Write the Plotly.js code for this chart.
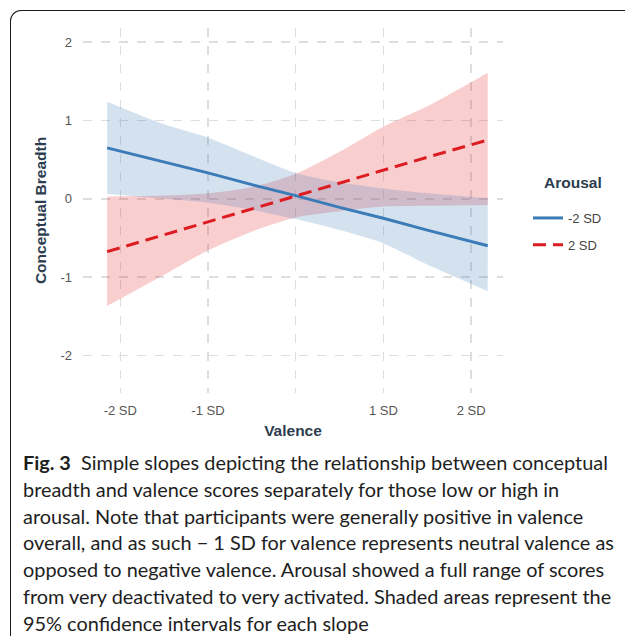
<!DOCTYPE html>
<html>
<head>
<meta charset="utf-8">
<script src="https://cdn.plot.ly/plotly-3.0.1.min.js"></script>
<style>
  html, body { margin: 0; padding: 0; background: #fff; }
  #frame { position: absolute; left: 10px; top: 10px; width: 640px; height: 640px;
           border-left: 1.6px solid #1a1a1a; border-top: 1.6px solid #1a1a1a;
           border-top-left-radius: 11px; box-sizing: border-box; }
  #chart { position: absolute; left: 0; top: 0; width: 625px; height: 636px; }
</style>
</head>
<body>
<div id="frame"></div>
<div id="chart"></div>
<script>
// ---- data ----
const valence = [-2.15, -1.5, -1, -0.5, 0, 0.5, 1, 1.5, 2.19];
const lowArousalFit   = [0.65, 0.47, 0.33, 0.18, 0.04, -0.11, -0.25, -0.40, -0.60];
const lowArousalUpper = [1.24, 0.95, 0.78, 0.55, 0.33, 0.21, 0.13, 0.07, 0.01];
const lowArousalLower = [0.06, 0.00, -0.05, -0.14, -0.26, -0.40, -0.57, -0.84, -1.18];
const highArousalFit   = [-0.675, -0.46, -0.30, -0.13, 0.03, 0.20, 0.37, 0.53, 0.75];
const highArousalUpper = [0.03, 0.04, 0.07, 0.15, 0.32, 0.60, 0.92, 1.18, 1.61];
const highArousalLower = [-1.37, -0.97, -0.66, -0.42, -0.24, -0.16, -0.10, -0.09, -0.08];
const legendTitle = 'Arousal';
const seriesNames = ['-2 SD', '2 SD'];
const xTickVals = [-2, -1, 0, 1, 2];
const xTickText = ['-2 SD', '-1 SD', '', '1 SD', '2 SD'];
const yTickVals = [-2, -1, 0, 1, 2];
const yTickText = ['-2', '-1', '0', '1', '2'];
const captionLines = [
  '<b>Fig. 3</b>\u00a0\u00a0Simple slopes depicting the relationship between conceptual',
  'breadth and valence scores separately for those low or high in',
  'arousal. Note that participants were generally positive in valence',
  'overall, and as such \u2212 1 SD for valence represents neutral valence as',
  'opposed to negative valence. Arousal showed a full range of scores',
  'from very deactivated to very activated. Shaded areas represent the',
  '95% confidence intervals for each slope'
];

// ---- layout geometry (pixels) ----
const FIG_W = 625, FIG_H = 636;
const M = {l: 83, r: 122, t: 28, b: 243};
const PW = FIG_W - M.l - M.r, PH = FIG_H - M.t - M.b;
const px2x = px => (px - M.l) / PW;
const py2y = py => (M.t + PH - py) / PH;

const blue = '#3b7bb7', red = '#dd1c22';
const blueFill = 'rgba(59,123,183,0.22)', redFill = 'rgba(228,30,36,0.22)';
const sans = 'Liberation Sans, Arial, sans-serif';

const traces = [
  {x: valence, y: highArousalLower, mode: 'lines', line: {width: 0, shape: 'spline', smoothing: 0.8}, showlegend: false, hoverinfo: 'skip'},
  {x: valence, y: highArousalUpper, mode: 'lines', line: {width: 0, shape: 'spline', smoothing: 0.8}, fill: 'tonexty', fillcolor: redFill, showlegend: false, hoverinfo: 'skip'},
  {x: valence, y: lowArousalLower, mode: 'lines', line: {width: 0, shape: 'spline', smoothing: 0.8}, showlegend: false, hoverinfo: 'skip'},
  {x: valence, y: lowArousalUpper, mode: 'lines', line: {width: 0, shape: 'spline', smoothing: 0.8}, fill: 'tonexty', fillcolor: blueFill, showlegend: false, hoverinfo: 'skip'},
  {x: valence, y: lowArousalFit, mode: 'lines', name: seriesNames[0], legendgroup: 'a', line: {color: blue, width: 3}},
  {x: valence, y: highArousalFit, mode: 'lines', name: seriesNames[1], legendgroup: 'b', line: {color: red, width: 3, dash: '13px,7px'}}
];

const annotations = captionLines.map((t, i) => ({
  text: t, xref: 'paper', yref: 'paper', x: px2x(21), y: py2y(462 + i * 26.8),
  xanchor: 'left', yanchor: 'middle', showarrow: false, align: 'left',
  font: {family: 'Lato, sans-serif', size: 19.9, color: '#1e1e1e'}
}));
annotations.push({
  text: '<b>' + legendTitle + '</b>', xref: 'paper', yref: 'paper', x: px2x(573), y: py2y(182),
  xanchor: 'center', yanchor: 'middle', showarrow: false,
  font: {family: sans, size: 15.5, color: '#2d3d4f'}
});

const layout = {
  width: FIG_W, height: FIG_H,
  margin: M,
  paper_bgcolor: 'rgba(0,0,0,0)', plot_bgcolor: 'rgba(0,0,0,0)',
  font: {family: sans, color: '#555'},
  xaxis: {
    range: [-2.425, 2.364], tickvals: xTickVals, ticktext: xTickText,
    showgrid: true, gridcolor: '#dedede', gridwidth: 1.5, griddash: 'dash',
    zeroline: false, showline: false, ticks: '', ticklabelstandoff: 8,
    tickfont: {family: sans, size: 13, color: '#555'},
    title: {text: '<b>Valence</b>', font: {family: sans, size: 15.5, color: '#2d3d4f'}, standoff: 8}
  },
  yaxis: {
    range: [-2.48, 2.18], tickvals: yTickVals, ticktext: yTickText,
    showgrid: true, gridcolor: '#dedede', gridwidth: 1.5, griddash: 'dash',
    zeroline: false, showline: false, ticks: '', ticklabelstandoff: 10,
    tickfont: {family: sans, size: 13, color: '#555'},
    title: {text: '<b>Conceptual Breadth</b>', font: {family: sans, size: 15.5, color: '#2d3d4f'}, standoff: 10}
  },
  legend: {
    x: px2x(528), y: py2y(203), xanchor: 'left', yanchor: 'top',
    bgcolor: 'rgba(0,0,0,0)', tracegroupgap: 7,
    font: {family: sans, size: 13, color: '#444'}
  },
  annotations: annotations,
  showlegend: true
};

Plotly.newPlot('chart', traces, layout, {staticPlot: true, displayModeBar: false});
</script>
</body>
</html>
